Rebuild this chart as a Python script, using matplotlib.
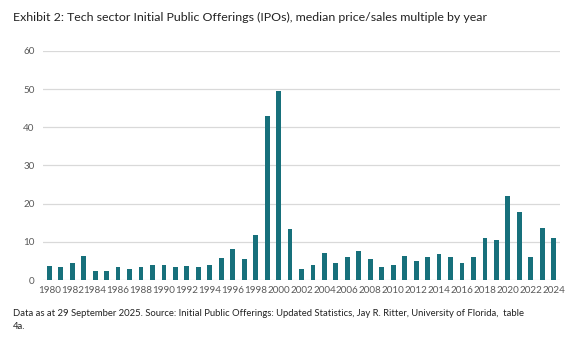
import matplotlib.pyplot as plt

# ---------------------- Data ----------------------
years = list(range(1980, 2025))
ps_multiple = [3.7, 3.5, 4.4, 6.4, 2.4, 2.4, 3.5, 3.0, 3.3, 3.9,
               3.9, 3.5, 3.7, 3.5, 4.0, 5.7, 8.1, 5.6, 11.8, 43.1,
               49.6, 13.4, 3.0, 3.9, 7.1, 4.4, 6.1, 7.6, 5.6, 3.5,
               3.8, 6.4, 4.9, 6.1, 6.8, 6.1, 4.4, 6.1, 11.1, 10.6,
               21.9, 17.7, 6.0, 13.6, 11.1]
tick_years = years[::2]

title = "Exhibit 2: Tech sector Initial Public Offerings (IPOs), median price/sales multiple by year"
footnote = ("Data as at 29 September 2025. Source: Initial Public Offerings: Updated Statistics, "
            "Jay R. Ritter, University of Florida,  table\n4a.")

# ---------------------- Figure ----------------------
plt.rcParams['font.family'] = ['Lato', 'DejaVu Sans']
fig = plt.figure(figsize=(5.7, 3.47), dpi=100)
ax = fig.add_axes([43 / 570, 67 / 347, 517 / 570, 229 / 347])

ax.bar(years, ps_multiple, width=0.42, color="#17707B", zorder=3)

ax.set_ylim(0, 60)
ax.set_yticks(range(0, 61, 10))
ax.set_xlim(years[0] - 0.55, years[-1] + 0.55)
ax.set_xticks(tick_years)
ax.set_xticklabels([str(y) for y in tick_years])
ax.tick_params(axis="both", length=0, labelsize=7.1, colors="#595959")
ax.tick_params(axis="x", pad=4)
ax.tick_params(axis="y", pad=6)
ax.grid(axis="y", color="#D9D9D9", linewidth=0.9, zorder=0)
for s in ax.spines.values():
    s.set_visible(False)

fig.text(13 / 570, 1 - 17 / 347, title, fontsize=8.9, color="#222222", va="center")
fig.text(13 / 570, 1 - 320 / 347, footnote, fontsize=6.8, color="#222222",
         va="center", linespacing=1.7)

fig.savefig("out.png", dpi=100)
